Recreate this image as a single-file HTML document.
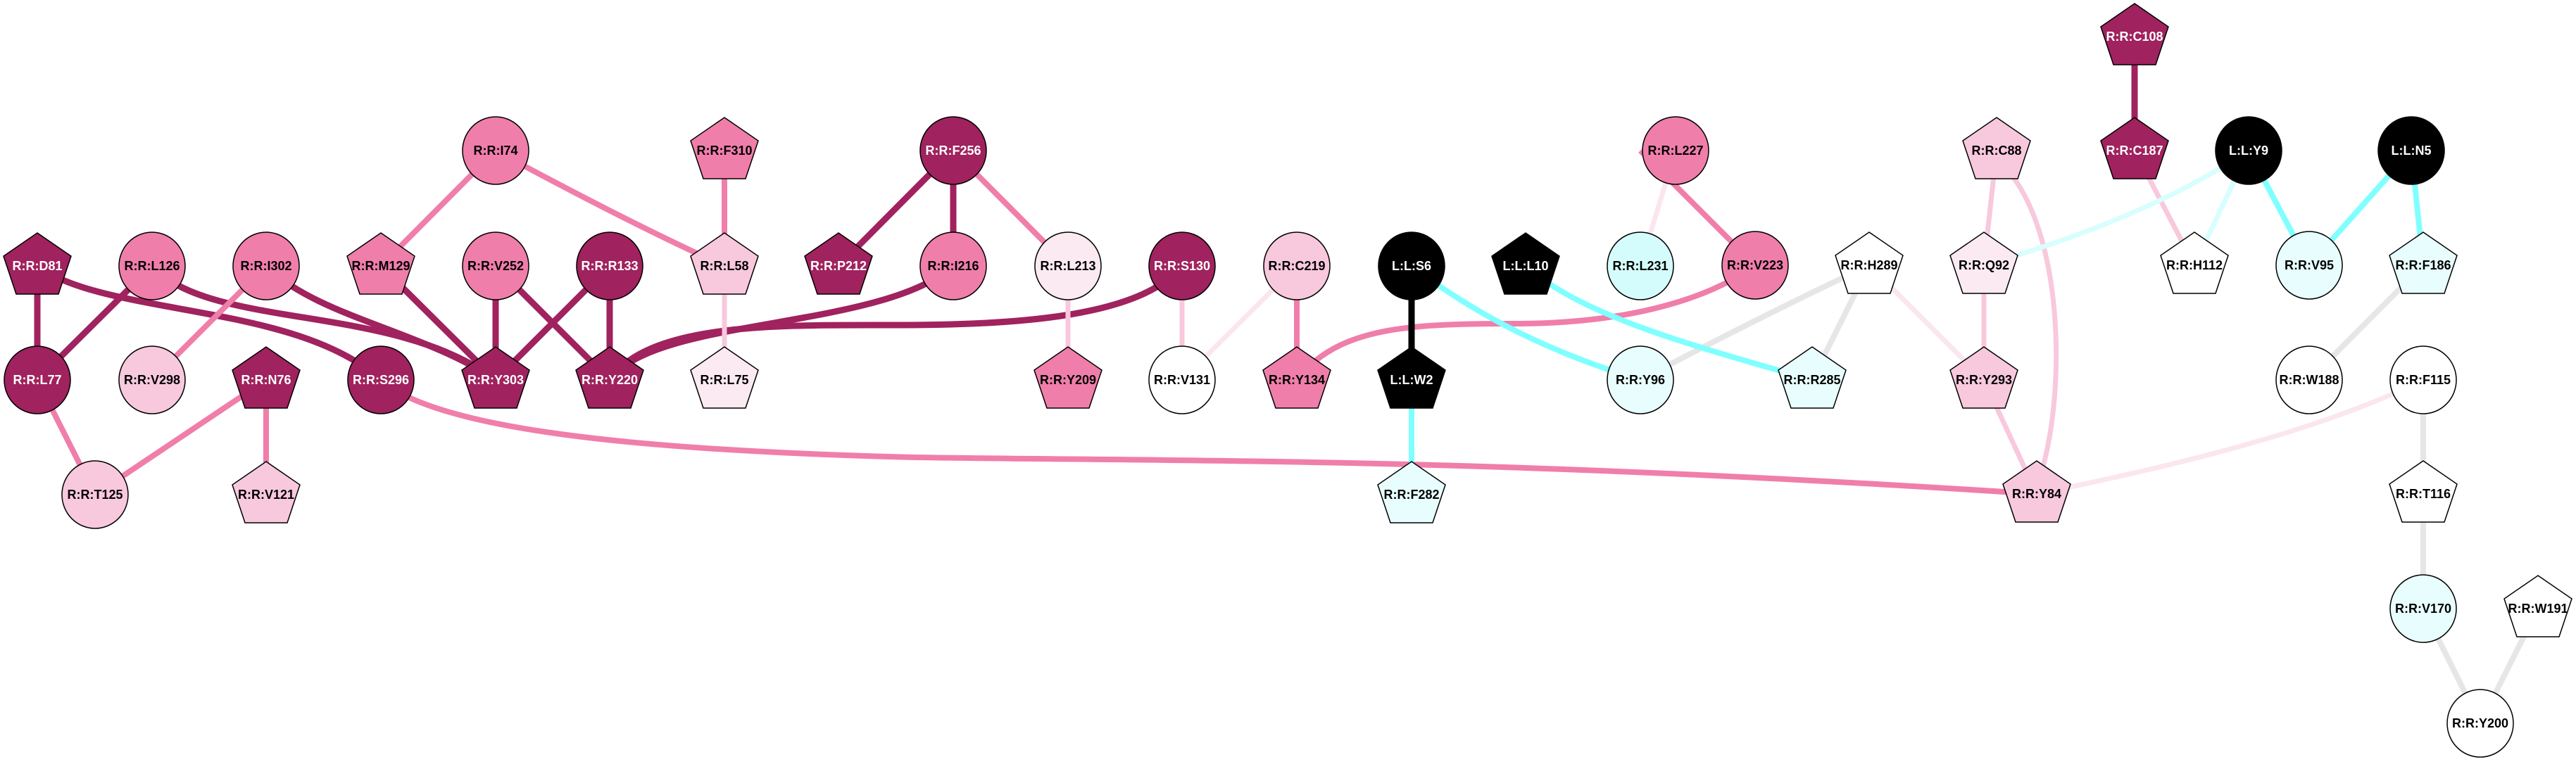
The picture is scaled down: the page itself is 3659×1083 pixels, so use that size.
<!DOCTYPE html>
<html><head><meta charset="utf-8"><style>
html,body{margin:0;padding:0;background:#fff;}
svg{display:block;}
text{font-family:"Liberation Sans",sans-serif;font-weight:bold;font-size:18px;text-anchor:middle;dominant-baseline:central;}
.w{fill:#fff}.b{fill:#000}
</style></head><body>
<svg width="3659" height="1083" viewBox="0 0 3659 1083" xmlns="http://www.w3.org/2000/svg">
<defs>
<polygon id="pg" points="0,-47 48,-14 30,40 -30,40 -48,-14" stroke="#000" stroke-width="1.5"/>
</defs>
<g fill="none" stroke-linecap="butt">
<!-- dark edges -->
<g stroke="#A0225E" stroke-width="9">
<line x1="53" y1="378" x2="53" y2="540"/>
<path d="M53,378 C150,450 420,430 541,540"/>
<line x1="216" y1="378" x2="53" y2="540"/>
<path d="M216,378 C300,470 560,430 704,540"/>
<path d="M378,378 C450,450 600,470 704,540"/>
<line x1="541" y1="378" x2="704" y2="540"/>
<line x1="704" y1="378" x2="704" y2="540"/>
<line x1="704" y1="378" x2="866" y2="540"/>
<line x1="866" y1="378" x2="704" y2="540"/>
<line x1="866" y1="378" x2="866" y2="540"/>
<path d="M866,540 C930,450 1250,470 1354,378"/>
<path d="M866,540 C920,460 1100,462 1250,462 C1450,463 1620,450 1679,378"/>
<line x1="1354" y1="214" x2="1191" y2="378"/>
<line x1="1354" y1="214" x2="1354" y2="378"/>
<line x1="3032" y1="52" x2="3032" y2="214"/>
</g>
<!-- pink edges -->
<g stroke="#F07EAA" stroke-width="8">
<line x1="704" y1="214" x2="541" y2="378"/>
<path d="M704,214 Q900,320 1029,378"/>
<line x1="1029" y1="214" x2="1029" y2="378"/>
<line x1="378" y1="378" x2="216" y2="540"/>
<line x1="53" y1="540" x2="135" y2="703"/>
<line x1="378" y1="540" x2="135" y2="703"/>
<line x1="378" y1="540" x2="378" y2="703"/>
<path d="M541,540 C620,610 900,640 1300,650 C1700,656 2100,650 2893,702"/>
<line x1="1354" y1="214" x2="1517" y2="378"/>
<line x1="1842" y1="378" x2="1842" y2="540"/>
<path d="M1842,540 C1900,465 2000,460 2150,460 C2300,460 2420,430 2493,377"/>
<line x1="2330" y1="214" x2="2493" y2="377"/>
</g>
<!-- light pink -->
<g stroke="#F8C8DC" stroke-width="7">
<line x1="1029" y1="378" x2="1029" y2="540"/>
<line x1="1517" y1="378" x2="1517" y2="540"/>
<line x1="1679" y1="378" x2="1679" y2="540"/>
<line x1="2836" y1="214" x2="2818" y2="377"/>
<path d="M2850,240 C2930,330 2935,550 2900,670"/>
<line x1="2818" y1="377" x2="2818" y2="540"/>
<line x1="2818" y1="540" x2="2893" y2="702"/>
<line x1="3032" y1="214" x2="3117" y2="377"/>
</g>
<!-- very light pink -->
<g stroke="#FBE6EF" stroke-width="7">
<line x1="1842" y1="378" x2="1679" y2="540"/>
<line x1="2380" y1="214" x2="2330" y2="378"/>
<line x1="2655" y1="377" x2="2818" y2="540"/>
<path d="M3442,540 C3300,610 3100,660 2893,702"/>
</g>
<!-- gray -->
<g stroke="#E6E6E6" stroke-width="8">
<path d="M2655,377 Q2500,450 2330,540"/>
<line x1="2655" y1="377" x2="2574" y2="540"/>
<line x1="3442" y1="377" x2="3280" y2="540"/>
<line x1="3442" y1="540" x2="3442" y2="865"/>
<line x1="3442" y1="865" x2="3523" y2="1028"/>
<line x1="3605" y1="865" x2="3523" y2="1028"/>
</g>
<!-- cyan -->
<g stroke="#80FFFF" stroke-width="8">
<path d="M2005,378 C2100,450 2200,500 2330,540"/>
<path d="M2167,378 C2250,450 2400,490 2574,540"/>
<line x1="2005" y1="540" x2="2005" y2="703"/>
<line x1="3194" y1="214" x2="3280" y2="377"/>
<line x1="3425" y1="214" x2="3280" y2="377"/>
<line x1="3425" y1="214" x2="3442" y2="377"/>
</g>
<g stroke="#D8FEFE" stroke-width="7">
<path d="M3194,214 Q3050,310 2818,377"/>
<line x1="3194" y1="214" x2="3117" y2="377"/>
</g>
<line x1="2005" y1="378" x2="2005" y2="540" stroke="#000" stroke-width="9"/>
</g>

<!-- nodes -->
<g stroke="#000" stroke-width="1.5">
<!-- circles -->
<ellipse cx="704" cy="214" rx="47" ry="48" fill="#F07EAA"/>
<ellipse cx="1354" cy="214" rx="47" ry="48" fill="#A0225E"/>
<ellipse cx="2380" cy="214" rx="47" ry="48" fill="#F07EAA"/>
<ellipse cx="3194" cy="214" rx="47" ry="48" fill="#000"/>
<ellipse cx="3425" cy="214" rx="47" ry="48" fill="#000"/>
<ellipse cx="216" cy="378" rx="47" ry="48" fill="#F07EAA"/>
<ellipse cx="378" cy="378" rx="47" ry="48" fill="#F07EAA"/>
<ellipse cx="704" cy="378" rx="47" ry="48" fill="#F07EAA"/>
<ellipse cx="866" cy="378" rx="47" ry="48" fill="#A0225E"/>
<ellipse cx="1354" cy="378" rx="47" ry="48" fill="#F07EAA"/>
<ellipse cx="1517" cy="378" rx="47" ry="48" fill="#FBEAF2"/>
<ellipse cx="1679" cy="378" rx="47" ry="48" fill="#A0225E"/>
<ellipse cx="1842" cy="378" rx="47" ry="48" fill="#F8C8DC"/>
<ellipse cx="2005" cy="378" rx="47" ry="48" fill="#000"/>
<ellipse cx="2330" cy="378" rx="47" ry="48" fill="#D5FCFC"/>
<ellipse cx="2493" cy="377" rx="47" ry="48" fill="#F07EAA"/>
<ellipse cx="3280" cy="377" rx="47" ry="48" fill="#E8FEFE"/>
<ellipse cx="53" cy="540" rx="47" ry="48" fill="#A0225E"/>
<ellipse cx="216" cy="540" rx="47" ry="48" fill="#F8C8DC"/>
<ellipse cx="541" cy="540" rx="47" ry="48" fill="#A0225E"/>
<ellipse cx="1679" cy="540" rx="47" ry="48" fill="#fff"/>
<ellipse cx="2330" cy="540" rx="47" ry="48" fill="#E8FEFE"/>
<ellipse cx="3280" cy="540" rx="47" ry="48" fill="#fff"/>
<ellipse cx="3442" cy="540" rx="47" ry="48" fill="#fff"/>
<ellipse cx="135" cy="703" rx="47" ry="48" fill="#F8C8DC"/>
<ellipse cx="3442" cy="865" rx="47" ry="48" fill="#E8FEFE"/>
<ellipse cx="3523" cy="1028" rx="47" ry="48" fill="#fff"/>
<!-- pentagons -->
<use href="#pg" x="3032" y="52" fill="#A0225E"/>
<use href="#pg" x="1029" y="214" fill="#F07EAA"/>
<use href="#pg" x="2836" y="214" fill="#F8C8DC"/>
<use href="#pg" x="3032" y="214" fill="#A0225E"/>
<use href="#pg" x="53" y="378" fill="#A0225E"/>
<use href="#pg" x="541" y="378" fill="#F07EAA"/>
<use href="#pg" x="1029" y="378" fill="#F8C8DC"/>
<use href="#pg" x="1191" y="378" fill="#A0225E"/>
<use href="#pg" x="2167" y="378" fill="#000"/>
<use href="#pg" x="2655" y="377" fill="#fff"/>
<use href="#pg" x="2818" y="377" fill="#FBEAF2"/>
<use href="#pg" x="3117" y="377" fill="#fff"/>
<use href="#pg" x="3442" y="377" fill="#E8FEFE"/>
<use href="#pg" x="378" y="540" fill="#A0225E"/>
<use href="#pg" x="704" y="540" fill="#A0225E"/>
<use href="#pg" x="866" y="540" fill="#A0225E"/>
<use href="#pg" x="1029" y="540" fill="#FBEAF2"/>
<use href="#pg" x="1517" y="540" fill="#F07EAA"/>
<use href="#pg" x="1842" y="540" fill="#F07EAA"/>
<use href="#pg" x="2005" y="540" fill="#000"/>
<use href="#pg" x="2574" y="540" fill="#E8FEFE"/>
<use href="#pg" x="2818" y="540" fill="#F8C8DC"/>
<use href="#pg" x="3442" y="702" fill="#fff"/>
<use href="#pg" x="378" y="703" fill="#F8C8DC"/>
<use href="#pg" x="2005" y="703" fill="#E8FEFE"/>
<use href="#pg" x="2893" y="702" fill="#F8C8DC"/>
<use href="#pg" x="3605" y="865" fill="#fff"/>
</g>

<!-- labels -->
<g>
<text x="3032" y="52" class="w">R:R:C108</text>
<text x="704" y="214">R:R:I74</text>
<text x="1029" y="214">R:R:F310</text>
<text x="1354" y="214" class="w">R:R:F256</text>
<text x="2380" y="214">R:R:L227</text>
<text x="2836" y="214">R:R:C88</text>
<text x="3032" y="214" class="w">R:R:C187</text>
<text x="3194" y="214" class="w">L:L:Y9</text>
<text x="3425" y="214" class="w">L:L:N5</text>
<text x="53" y="378" class="w">R:R:D81</text>
<text x="216" y="378">R:R:L126</text>
<text x="378" y="378">R:R:I302</text>
<text x="541" y="378">R:R:M129</text>
<text x="704" y="378">R:R:V252</text>
<text x="866" y="378" class="w">R:R:R133</text>
<text x="1029" y="378">R:R:L58</text>
<text x="1191" y="378" class="w">R:R:P212</text>
<text x="1354" y="378">R:R:I216</text>
<text x="1517" y="378">R:R:L213</text>
<text x="1679" y="378" class="w">R:R:S130</text>
<text x="1842" y="378">R:R:C219</text>
<text x="2005" y="378" class="w">L:L:S6</text>
<text x="2167" y="378" class="w">L:L:L10</text>
<text x="2330" y="378">R:R:L231</text>
<text x="2493" y="377">R:R:V223</text>
<text x="2655" y="377">R:R:H289</text>
<text x="2818" y="377">R:R:Q92</text>
<text x="3117" y="377">R:R:H112</text>
<text x="3280" y="377">R:R:V95</text>
<text x="3442" y="377">R:R:F186</text>
<text x="53" y="540" class="w">R:R:L77</text>
<text x="216" y="540">R:R:V298</text>
<text x="378" y="540" class="w">R:R:N76</text>
<text x="541" y="540" class="w">R:R:S296</text>
<text x="704" y="540" class="w">R:R:Y303</text>
<text x="866" y="540" class="w">R:R:Y220</text>
<text x="1029" y="540">R:R:L75</text>
<text x="1517" y="540">R:R:Y209</text>
<text x="1679" y="540">R:R:V131</text>
<text x="1842" y="540">R:R:Y134</text>
<text x="2005" y="540" class="w">L:L:W2</text>
<text x="2330" y="540">R:R:Y96</text>
<text x="2574" y="540">R:R:R285</text>
<text x="2818" y="540">R:R:Y293</text>
<text x="3280" y="540">R:R:W188</text>
<text x="3442" y="540">R:R:F115</text>
<text x="135" y="703">R:R:T125</text>
<text x="378" y="703">R:R:V121</text>
<text x="2005" y="703">R:R:F282</text>
<text x="2893" y="702">R:R:Y84</text>
<text x="3442" y="702">R:R:T116</text>
<text x="3442" y="865">R:R:V170</text>
<text x="3605" y="865">R:R:W191</text>
<text x="3523" y="1028">R:R:Y200</text>
</g>
</svg>
</body></html>
